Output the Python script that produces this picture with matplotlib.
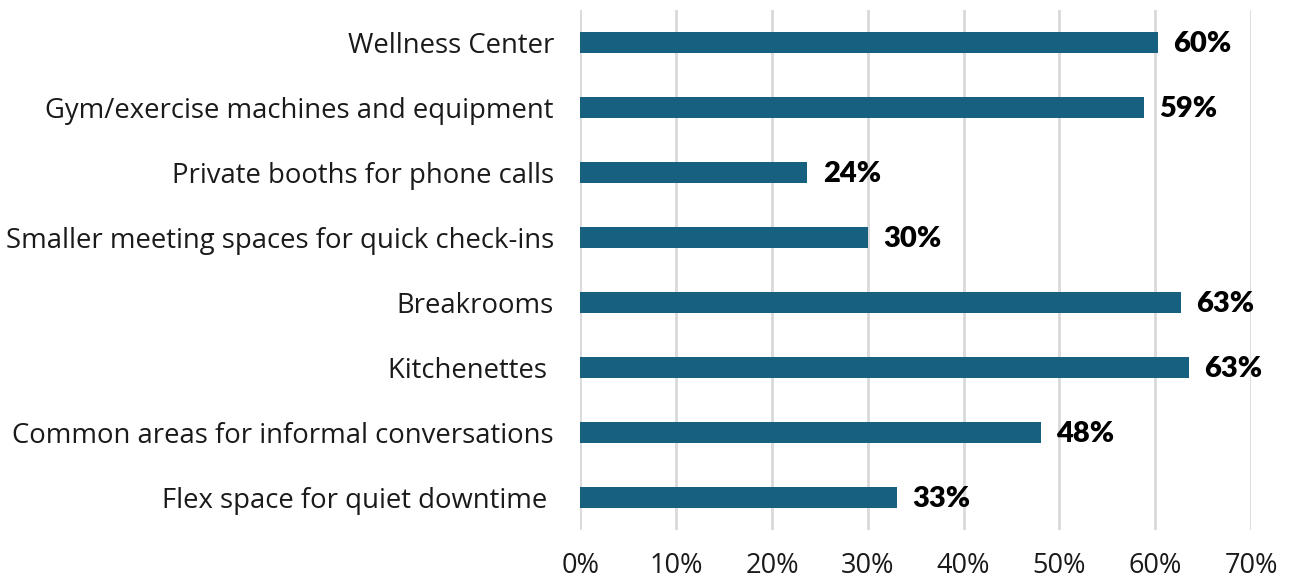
import matplotlib
matplotlib.use("Agg")
import matplotlib.pyplot as plt
from matplotlib.ticker import FuncFormatter

plt.rcParams['font.family'] = ['Open Sans', 'DejaVu Sans']

# Datos
categorias = [
    "Wellness Center",
    "Gym/exercise machines and equipment",
    "Private booths for phone calls",
    "Smaller meeting spaces for quick check-ins",
    "Breakrooms",
    "Kitchenettes ",
    "Common areas for informal conversations",
    "Flex space for quiet downtime ",
]
valores = [60.3, 58.8, 23.7, 30.0, 62.7, 63.5, 48.1, 33.0]
etiquetas = ["60%", "59%", "24%", "30%", "63%", "63%", "48%", "33%"]
ticks_x = [0, 10, 20, 30, 40, 50, 60, 70]

fig = plt.figure(figsize=(12.94, 5.79), dpi=100)
ax = fig.add_axes([0.4485, 0.0846, 0.5183, 0.8981])

y = list(range(len(categorias)))
ax.barh(y, valores, height=0.31, color='#17607f', zorder=3)
for yi, v, lab in zip(y, valores, etiquetas):
    ax.text(v + 1.6, yi + 0.02, lab, va='center', ha='left', fontsize=21,
            fontweight='heavy', color='black', family=['Lato', 'DejaVu Sans'])

ax.set_ylim(len(categorias) - 0.5, -0.5)
ax.set_xlim(0, 70)
ax.set_yticks(y)
ax.set_yticklabels(categorias, fontsize=19.8, color='#1a1a1a')
ax.set_xticks(ticks_x)
ax.xaxis.set_major_formatter(FuncFormatter(lambda v, p: f"{v:.0f}%"))
ax.tick_params(axis='x', labelsize=19.5, length=0, pad=16, colors='#1a1a1a')
ax.tick_params(axis='y', length=0, pad=19)
ax.grid(axis='x', color='#d9d9d9', linewidth=2, zorder=0)
for s in ax.spines.values():
    s.set_visible(False)

fig.savefig("out.png", dpi=100)
